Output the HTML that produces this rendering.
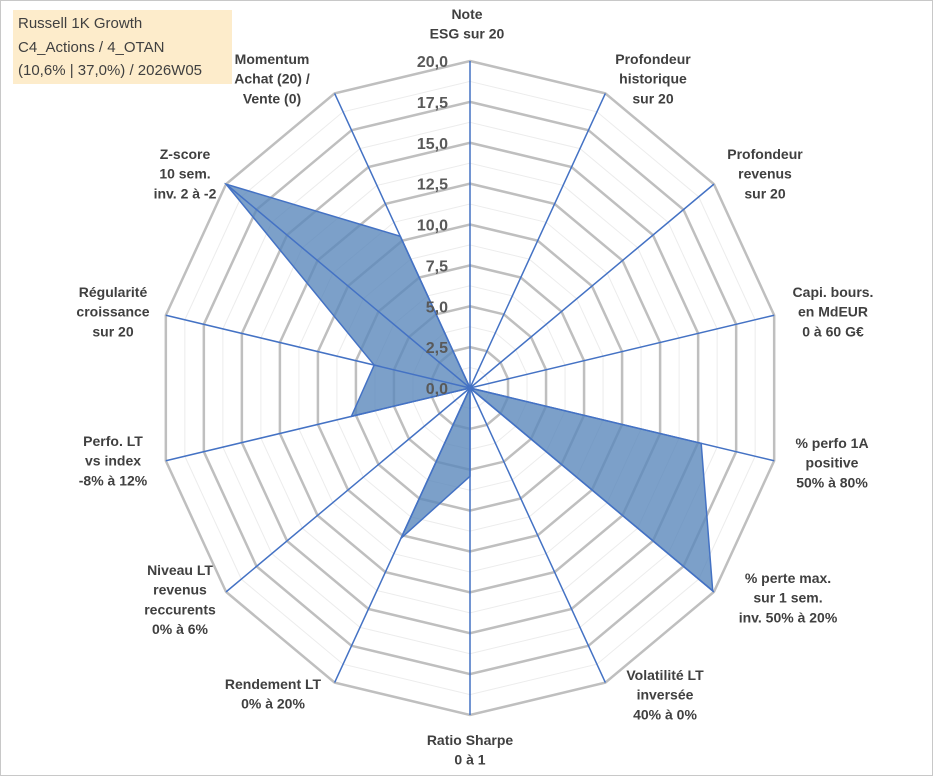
<!DOCTYPE html>
<html><head><meta charset="utf-8"><style>
body{margin:0;background:#fff;}
#wrap{position:relative;width:933px;height:776px;overflow:hidden;background:#fff;}
svg{position:absolute;left:0;top:0;}
.lbl{font-family:"Liberation Sans",Arial,sans-serif;font-weight:bold;font-size:14px;fill:#404040;}
.tick{font-family:"Liberation Sans",Arial,sans-serif;font-weight:bold;font-size:16px;fill:#595959;}
#title{position:absolute;left:13px;top:10px;width:219px;height:74px;background:#fdeccb;font-family:"Liberation Sans",Arial,sans-serif;font-size:15px;color:#404040;line-height:23.5px;padding:2px 0 0 5px;box-sizing:border-box;}
</style></head><body>
<div id="wrap">
<svg id="chart" width="933" height="776">
<rect x="0.5" y="0.5" width="932" height="775" fill="none" stroke="#c8c8c8" stroke-width="1"/>
</svg>
<div id="title">Russell 1K Growth<br>C4_Actions / 4_OTAN<br>(10,6% | 37,0%) / 2026W05</div>
</div>
<script>
const categories=[["Note","ESG sur 20"],["Profondeur","historique","sur 20"],["Profondeur","revenus","sur 20"],["Capi. bours.","en MdEUR","0 à 60 G€"],["% perfo 1A","positive","50% à 80%"],["% perte max.","sur 1 sem.","inv. 50% à 20%"],["Volatilité LT","inversée","40% à 0%"],["Ratio Sharpe","0 à 1"],["Rendement LT","0% à 20%"],["Niveau LT","revenus","reccurents","0% à 6%"],["Perfo. LT","vs index","-8% à 12%"],["Régularité","croissance","sur 20"],["Z-score","10 sem.","inv. 2 à -2"],["Momentum","Achat (20) /","Vente (0)"]];
const values=[0,0,0,0,15.2,19.9,0,5.4,10.2,0,7.8,6.3,20,10.3];
const tickLabels=["0,0","2,5","5,0","7,5","10,0","12,5","15,0","17,5","20,0"];
const tickValues=[0,2.5,5,7.5,10,12.5,15,17.5,20];
const maxV=20;
const cx=470,cy=388,RX=312,RY=327;
const labelPos=[[467,14],[653,59],[765,154],[833,292],[832,443],[788,578],[665,675],[470,740],[273,684],[180,570],[113,441],[113,292],[185,154],[272,59]];
const svg=document.getElementById('chart');
const NS='http://www.w3.org/2000/svg';
const N=categories.length;
function ang(i){return i*2*Math.PI/N;}
function pt(i,v){const f=v/maxV;return [cx+f*RX*Math.sin(ang(i)),cy-f*RY*Math.cos(ang(i))];}
function mk(t,a){const e=document.createElementNS(NS,t);for(const k in a)e.setAttribute(k,a[k]);svg.appendChild(e);return e;}
for(let v=1.25;v<maxV;v+=2.5){
const p=[];for(let i=0;i<N;i++)p.push(pt(i,v).join(','));
const e=mk('polygon',{points:p.join(' '),fill:'none',stroke:'#ececec','stroke-width':1});

}
tickValues.forEach(v=>{if(v===0)return;const p=[];for(let i=0;i<N;i++)p.push(pt(i,v).join(','));
const e=mk('polygon',{points:p.join(' '),fill:'none',stroke:'#bfbfbf','stroke-width':2.5});

});
const sp=values.map((v,i)=>pt(i,v).join(',')).join(' ');
const s=mk('polygon',{points:sp,fill:'#5b88bb','fill-opacity':0.8,stroke:'#4472c4','stroke-width':1.5});


for(let i=0;i<N;i++){const [x,y]=pt(i,maxV);
const l=mk('line',{x1:cx,y1:cy,x2:x,y2:y,stroke:'#4472c4','stroke-width':1.5});

}
tickValues.forEach((v,k)=>{const y=cy-v/maxV*RY;
const t=mk('text',{x:cx-22,y:y+6,'text-anchor':'end',class:'tick'});t.textContent=tickLabels[k];

});
categories.forEach((c,i)=>{const [x,y]=labelPos[i];
const t=mk('text',{x:x,y:y+5,'text-anchor':'middle',class:'lbl'});
c.forEach((ln,j)=>{const ts=document.createElementNS(NS,'tspan');ts.setAttribute('x',x);ts.setAttribute('y',y+5+j*19.7);ts.textContent=ln;t.appendChild(ts);});

});
</script>
</body></html>
